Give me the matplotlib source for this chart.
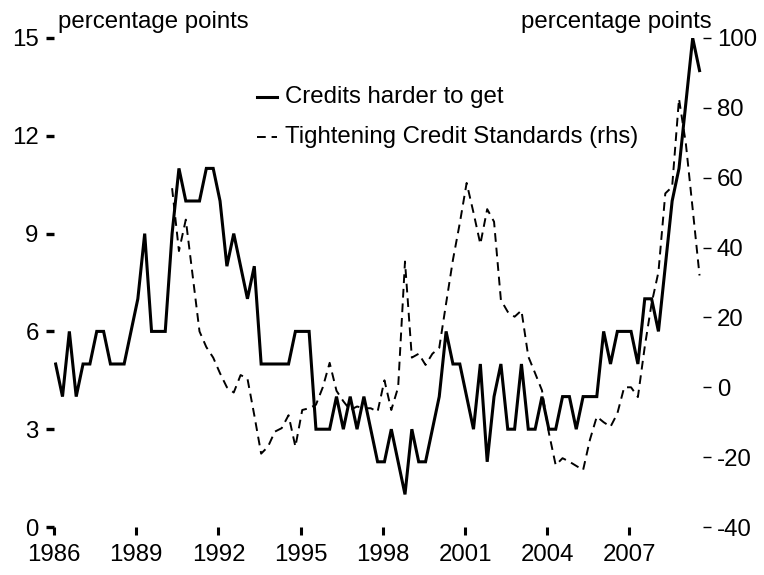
import numpy as np
import matplotlib
matplotlib.use("Agg")
import matplotlib.pyplot as plt
from matplotlib.lines import Line2D

plt.rcParams["font.family"] = ["Liberation Sans Narrow", "Liberation Sans", "DejaVu Sans"]
plt.rcParams["font.stretch"] = "condensed"
plt.rcParams["axes.unicode_minus"] = False

# quarterly data, 1986Q1 .. 2009Q3
credits_harder = [5, 4, 6, 4, 5, 5, 6, 6, 5, 5,
                  5, 6, 7, 9, 6, 6, 6, 9, 11, 10,
                  10, 10, 11, 11, 10, 8, 9, 8, 7, 8,
                  5, 5, 5, 5, 5, 6, 6, 6, 3, 3,
                  3, 4, 3, 4, 3, 4, 3, 2, 2, 3,
                  2, 1, 3, 2, 2, 3, 4, 6, 5, 5,
                  4, 3, 5, 2, 4, 5, 3, 3, 5, 3,
                  3, 4, 3, 3, 4, 4, 3, 4, 4, 4,
                  6, 5, 6, 6, 6, 5, 7, 7, 6, 8,
                  10, 11, 13, 15, 14]

# bank lending survey, starts 1990Q2 (rhs)
tightening = [57, 39, 48, 32, 16, 11.5, 8.5, 4, 0, -1.5,
              3.5, 2.5, -8, -19, -17, -12.7, -11.7, -8, -17, -6.5,
              -6, -5, 0, 7, -1, -4, -6.5, -5.5, -6, -6,
              -7, 2, -6.5, 0, 36, 8.5, 9.6, 6.4, 9.6, 11.3,
              24, 36.5, 47, 58.5, 50, 41, 51, 47.4, 25, 21.6,
              20.2, 22, 8.8, 4, -0.9, -13, -22.3, -20.3, -21.3, -22.5,
              -23.7, -15, -8.4, -10, -11.3, -7.5, 0, 0, -2.8, 11.6,
              24, 33, 55.5, 57.4, 82.6, 69.8, 51, 32]

years = 1986.06 + np.arange(len(credits_harder)) / 4
years_rhs = years[len(credits_harder) - len(tightening):]

left_ticks = [0, 3, 6, 9, 12, 15]
right_ticks = [-40, -20, 0, 20, 40, 60, 80, 100]
x_ticks = [1986, 1989, 1992, 1995, 1998, 2001, 2004, 2007]

W, H = 764, 575
fig = plt.figure(figsize=(W / 100, H / 100), dpi=100)
ax = fig.add_axes([54 / W, 1 - 527 / H, (703 - 54) / W, (527 - 38) / H])
ax2 = ax.twinx()

ax.plot(years, credits_harder, color="black", lw=2.2, solid_joinstyle="miter")
ax2.plot(years_rhs, tightening, color="black", lw=1.4, dashes=(4.5, 3))

ax.set_xlim(1986, 1986 + (703 - 54) / 27.4)
ax.set_ylim(0, 15)
ax2.set_ylim(-40, 100)

ax.set_xticks(x_ticks)
ax.set_yticks(left_ticks)
ax2.set_yticks(right_ticks)

for a in (ax, ax2):
    for s in a.spines.values():
        s.set_visible(False)

fs = 17.3
ax.tick_params(axis="x", direction="out", length=6, width=2.2, labelsize=fs, pad=6)
ax.tick_params(axis="y", direction="out", length=6, width=2.4, labelsize=fs, pad=5)
ax2.tick_params(axis="y", direction="out", length=6, width=1.0, labelsize=fs, pad=4)

fig.text(58 / W, 1 - 28 / H, "percentage points", fontsize=fs, ha="left", va="baseline")
fig.text(712 / W, 1 - 28 / H, "percentage points", fontsize=fs, ha="right", va="baseline")

# legend drawn by hand
fig.add_artist(Line2D([257 / W, 277 / W], [1 - 97 / H] * 2, color="black", lw=2.2,
                      transform=fig.transFigure))
fig.add_artist(Line2D([257 / W, 277 / W], [1 - 137 / H] * 2, color="black", lw=1.4,
                      dashes=(4.5, 3), transform=fig.transFigure))
fig.text(285 / W, 1 - 97 / H, "Credits harder to get", fontsize=fs, ha="left", va="center")
fig.text(285 / W, 1 - 137 / H, "Tightening Credit Standards (rhs)", fontsize=fs,
         ha="left", va="center")

fig.savefig("out.png", dpi=100)
